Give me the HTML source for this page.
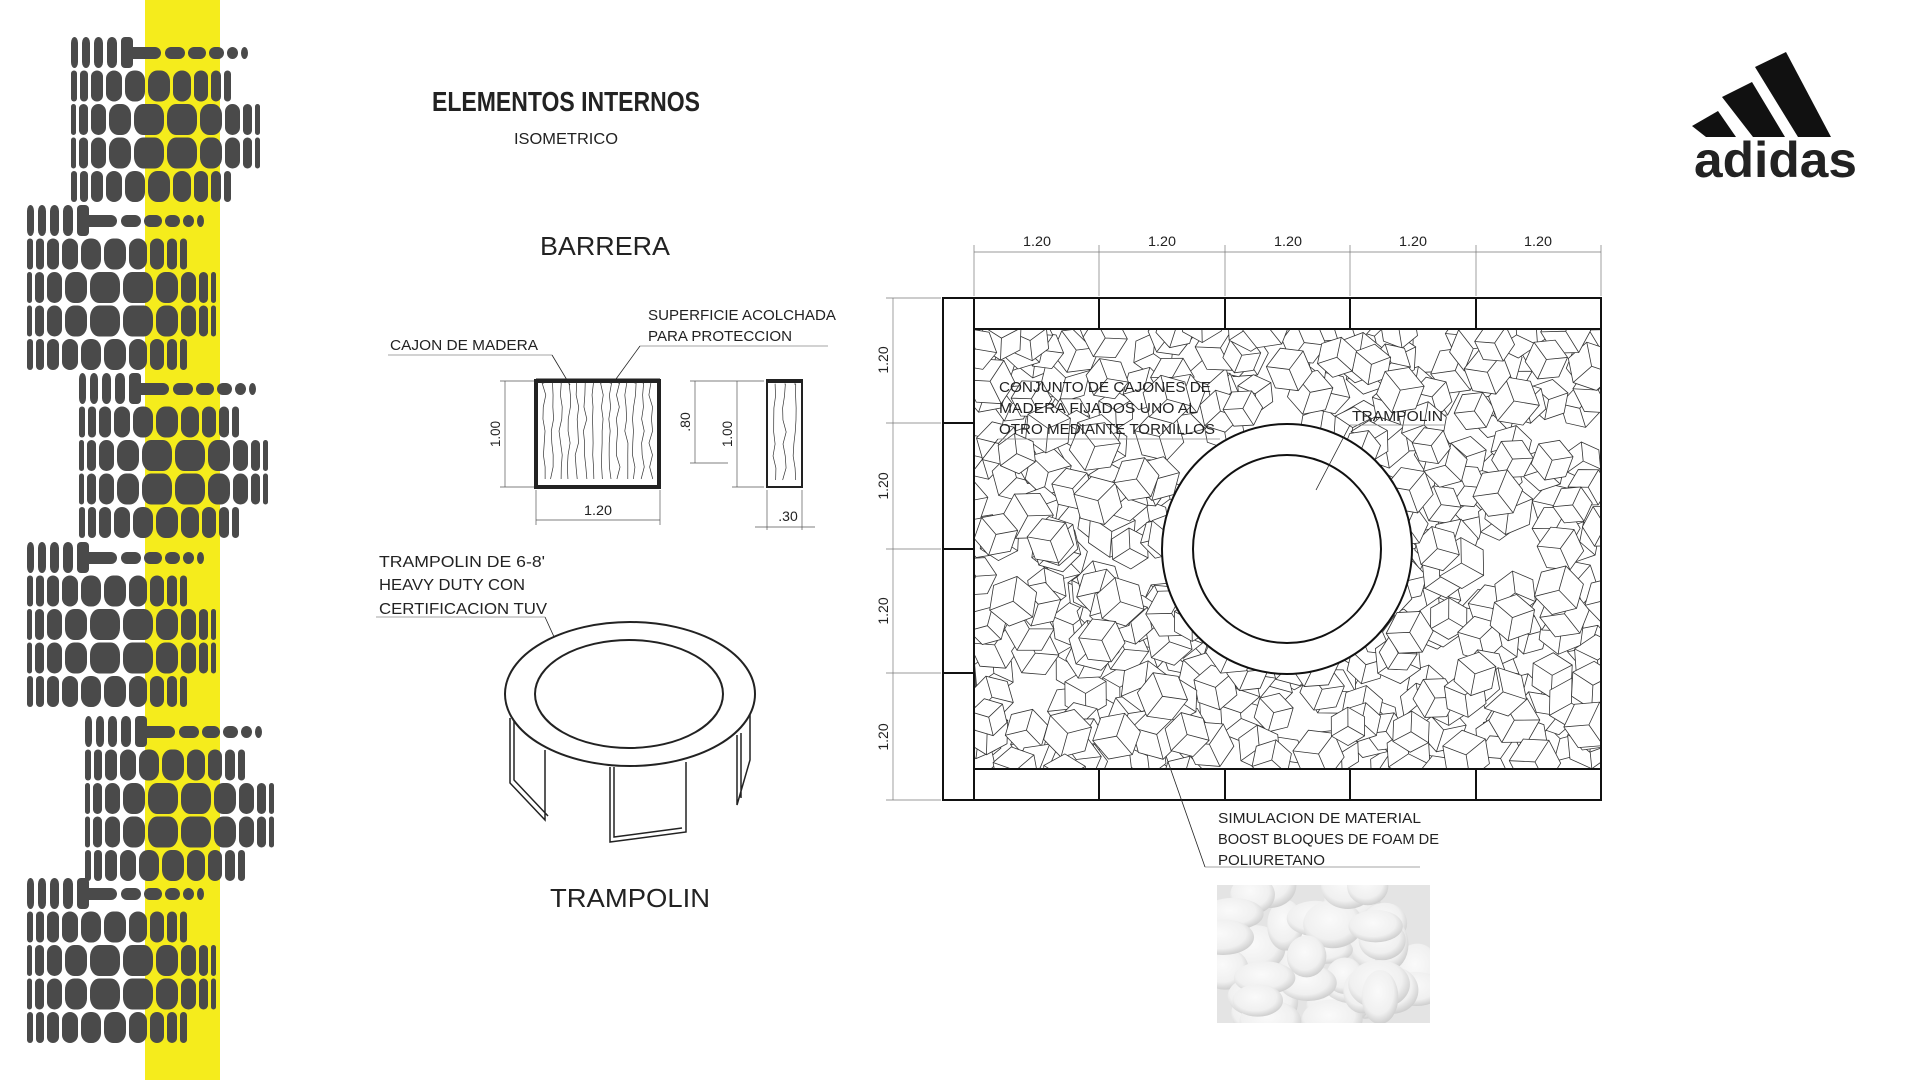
<!DOCTYPE html>
<html><head><meta charset="utf-8"><style>
html,body{margin:0;padding:0;background:#fff;width:1910px;height:1080px;overflow:hidden}
svg{display:block}
text{font-family:"Liberation Sans",sans-serif;fill:#222}
</style></head><body>
<svg id="s" width="1910" height="1080" viewBox="0 0 1910 1080" xmlns="http://www.w3.org/2000/svg">
<defs>
<radialGradient id="bub" cx="45%" cy="40%" r="60%"><stop offset="0" stop-color="#fafafa"/><stop offset="0.7" stop-color="#f0f0f0"/><stop offset="1" stop-color="#cfcfcf"/></radialGradient>
<clipPath id="fillclip"><rect x="974" y="329" width="627" height="440"/></clipPath>
<clipPath id="foamclip"><rect x="1217" y="885" width="213" height="138"/></clipPath>
</defs>
<rect x="145" y="0" width="75" height="1080" fill="#f5ec1c"/>
<g id="pills" fill="#4a4a4a"></g>

<text x="566" y="111" text-anchor="middle" font-size="28" font-weight="bold" textLength="268" lengthAdjust="spacingAndGlyphs">ELEMENTOS INTERNOS</text>
<text x="566" y="144" text-anchor="middle" font-size="16" textLength="104" lengthAdjust="spacingAndGlyphs">ISOMETRICO</text>
<text x="605" y="255" text-anchor="middle" font-size="26" textLength="130" lengthAdjust="spacingAndGlyphs">BARRERA</text>
<text x="630" y="907" text-anchor="middle" font-size="26" textLength="160" lengthAdjust="spacingAndGlyphs">TRAMPOLIN</text>

<g fill="#111">
<polygon points="1692,126 1718,111 1736,137 1706,137"/>
<polygon points="1722,97 1752,82 1785,137 1753,137"/>
<polygon points="1755,67 1786,52 1831,137 1798,137"/>
<text x="1694" y="177" font-size="50" font-weight="bold" fill="#111" textLength="163" lengthAdjust="spacingAndGlyphs">adidas</text>
</g>

<g stroke="#222" fill="none">
<text x="390" y="350" font-size="15" stroke="none" textLength="148" lengthAdjust="spacingAndGlyphs">CAJON DE MADERA</text>
<line x1="388" y1="355" x2="552" y2="355" stroke-width="0.8" stroke="#888"/>
<line x1="552" y1="355" x2="570" y2="385" stroke-width="0.8"/>
<text x="648" y="320" font-size="15" stroke="none" textLength="188" lengthAdjust="spacingAndGlyphs">SUPERFICIE ACOLCHADA</text>
<text x="648" y="341" font-size="15" stroke="none" textLength="144" lengthAdjust="spacingAndGlyphs">PARA PROTECCION</text>
<line x1="640" y1="346" x2="828" y2="346" stroke-width="0.8" stroke="#888"/>
<line x1="640" y1="346" x2="616" y2="379" stroke-width="0.8"/>
<rect x="536" y="381" width="123" height="106" stroke-width="4"/>
<line x1="536" y1="380" x2="660" y2="380" stroke-width="3"/>
<g id="wood1" stroke-width="0.7"></g>
<rect x="767" y="382" width="35" height="105" stroke-width="2"/>
<line x1="766" y1="381" x2="803" y2="381" stroke-width="4"/>
<g id="wood2" stroke-width="0.7"></g>
<g stroke-width="0.7" stroke="#555">
<line x1="505" y1="381" x2="505" y2="487"/><line x1="500" y1="381" x2="534" y2="381"/><line x1="500" y1="487" x2="534" y2="487"/>
<line x1="536" y1="520" x2="660" y2="520"/><line x1="536" y1="490" x2="536" y2="525"/><line x1="660" y1="490" x2="660" y2="525"/>
<line x1="695" y1="381" x2="695" y2="463"/><line x1="690" y1="381" x2="764" y2="381"/><line x1="690" y1="463" x2="728" y2="463"/>
<line x1="737" y1="381" x2="737" y2="487"/><line x1="732" y1="487" x2="764" y2="487"/>
<line x1="767" y1="490" x2="767" y2="530"/><line x1="802" y1="490" x2="802" y2="530"/><line x1="755" y1="527" x2="815" y2="527"/>
</g>
</g>
<g font-size="14">
<text transform="translate(500,434) rotate(-90)" text-anchor="middle" textLength="26" lengthAdjust="spacingAndGlyphs">1.00</text>
<text x="598" y="515" text-anchor="middle" textLength="28" lengthAdjust="spacingAndGlyphs">1.20</text>
<text transform="translate(690,422) rotate(-90)" text-anchor="middle">.80</text>
<text transform="translate(732,434) rotate(-90)" text-anchor="middle" textLength="26" lengthAdjust="spacingAndGlyphs">1.00</text>
<text x="788" y="521" text-anchor="middle">.30</text>
</g>

<text x="379" y="567" font-size="16" textLength="166" lengthAdjust="spacingAndGlyphs">TRAMPOLIN DE 6-8'</text>
<text x="379" y="590" font-size="16" textLength="146" lengthAdjust="spacingAndGlyphs">HEAVY DUTY CON</text>
<text x="379" y="614" font-size="16" textLength="168" lengthAdjust="spacingAndGlyphs">CERTIFICACION TUV</text>
<g stroke="#222" fill="none" stroke-width="1.5">
<line x1="376" y1="617" x2="545" y2="617" stroke-width="0.8" stroke="#888"/>
<line x1="545" y1="617" x2="570" y2="672" stroke-width="0.8"/>
<path d="M510,718 V783 L545,820 V750 M514,718 V780 L548,816"/>
<path d="M610,767 V842 L686,832 V762 M614,767 V837 L682,828"/>
<path d="M737,735 V805 L750,760 V715 M741,733 V798"/>
<ellipse cx="630" cy="694" rx="125" ry="72" fill="#fff" stroke-width="2"/>
<ellipse cx="629" cy="694" rx="94" ry="54" stroke-width="2"/>
</g>

<g id="cubes" clip-path="url(#fillclip)" stroke="#333" stroke-width="0.8" fill="#fff"></g>
<g stroke="#111" fill="none" stroke-width="2">
<rect x="943" y="298" width="658" height="502"/>
<rect x="974" y="298" width="627" height="502"/>
<line x1="974" y1="329" x2="1601" y2="329"/>
<line x1="974" y1="769" x2="1601" y2="769"/>
<path d="M1099,298 V329 M1225,298 V329 M1350,298 V329 M1476,298 V329 M1099,769 V800 M1225,769 V800 M1350,769 V800 M1476,769 V800"/>
<path d="M943,423 H974 M943,549 H974 M943,673 H974"/>
<circle cx="1287" cy="549" r="125" fill="#fff"/>
<circle cx="1287" cy="549" r="94"/>
</g>
<g stroke="#777" stroke-width="0.7" fill="none">
<line x1="974" y1="252" x2="1601" y2="252"/>
<path d="M974,245 V296 M1099,245 V296 M1225,245 V296 M1350,245 V296 M1476,245 V296 M1601,245 V296"/>
<line x1="893" y1="298" x2="893" y2="800"/>
<path d="M886,298 H941 M886,423 H941 M886,549 H941 M886,673 H941 M886,800 H941"/>
</g>
<g font-size="14">
<text x="1037" y="246" text-anchor="middle" textLength="28" lengthAdjust="spacingAndGlyphs">1.20</text>
<text x="1162" y="246" text-anchor="middle" textLength="28" lengthAdjust="spacingAndGlyphs">1.20</text>
<text x="1288" y="246" text-anchor="middle" textLength="28" lengthAdjust="spacingAndGlyphs">1.20</text>
<text x="1413" y="246" text-anchor="middle" textLength="28" lengthAdjust="spacingAndGlyphs">1.20</text>
<text x="1538" y="246" text-anchor="middle" textLength="28" lengthAdjust="spacingAndGlyphs">1.20</text>
<text transform="translate(888,360) rotate(-90)" text-anchor="middle">1.20</text>
<text transform="translate(888,486) rotate(-90)" text-anchor="middle">1.20</text>
<text transform="translate(888,611) rotate(-90)" text-anchor="middle">1.20</text>
<text transform="translate(888,737) rotate(-90)" text-anchor="middle">1.20</text>
</g>
<g font-size="15">
<text x="999" y="392" textLength="212" lengthAdjust="spacingAndGlyphs">CONJUNTO DE CAJONES DE</text>
<text x="999" y="413" textLength="198" lengthAdjust="spacingAndGlyphs">MADERA FIJADOS UNO AL</text>
<text x="999" y="434" textLength="216" lengthAdjust="spacingAndGlyphs">OTRO MEDIANTE TORNILLOS</text>
<text x="1352" y="421" textLength="91" lengthAdjust="spacingAndGlyphs">TRAMPOLIN</text>
</g>
<g stroke="#222" stroke-width="0.8" fill="none">
<line x1="1350" y1="425" x2="1445" y2="425" stroke="#888"/>
<line x1="1350" y1="425" x2="1316" y2="490"/>
<line x1="998" y1="439" x2="1220" y2="439" stroke="#888"/>
<line x1="998" y1="439" x2="974" y2="470"/>
<line x1="1205" y1="867" x2="1420" y2="867" stroke="#888"/>
<line x1="1205" y1="867" x2="1166" y2="756"/>
</g>
<g font-size="15">
<text x="1218" y="823" textLength="203" lengthAdjust="spacingAndGlyphs">SIMULACION DE MATERIAL</text>
<text x="1218" y="844" textLength="221" lengthAdjust="spacingAndGlyphs">BOOST BLOQUES DE FOAM DE</text>
<text x="1218" y="865" textLength="107" lengthAdjust="spacingAndGlyphs">POLIURETANO</text>
</g>
<rect x="1217" y="885" width="213" height="138" fill="#e4e4e4"/>
<g id="foam" clip-path="url(#foamclip)"></g>
</svg>
<script>
(function(){
var NS="http://www.w3.org/2000/svg";
function el(p,t,a){var e=document.createElementNS(NS,t);for(var k in a)e.setAttribute(k,a[k]);p.appendChild(e);return e;}
var seed=7;function r(){seed=(seed*16807)%2147483647;return seed/2147483647;}
var P=document.getElementById('pills');
var groups=[[71,37],[27,205],[79,373],[27,542],[85,716],[27,878]];
var W=[null,[6,8,12,16,20,22,18,14,10,7],[5,9,15,22,30,30,22,15,9,5],[5,9,15,22,30,30,22,15,9,5],[6,8,12,16,20,22,18,14,10,7]];
groups.forEach(function(g){
 var x=g[0],y=g[1],h=31;
 [7,8,9,10].forEach(function(w){el(P,'rect',{x:x,y:y,width:w,height:h,rx:w/2,ry:6});x+=w+4;});
 el(P,'rect',{x:x,y:y,width:12,height:h,rx:4});
 el(P,'rect',{x:x,y:y+10,width:40,height:12,rx:6});x+=44;
 [20,18,15,11,7].forEach(function(w){el(P,'rect',{x:x,y:y+10,width:w,height:12,rx:6});x+=w+3;});
 for(var row=1;row<5;row++){
  x=g[0];y=g[1]+row*33.5;
  var ws=W[row];
  for(var i=0;i<ws.length;i++){
   var w=ws[i];
   el(P,'rect',{x:x,y:y,width:w,height:h,rx:Math.min(w/2,9),ry:Math.min(w/2,12)});
   x+=w+3;
  }
 }
});
function wood(id,x0,x1,y0,y1,n){var G=document.getElementById(id);
 for(var i=0;i<n;i++){var x=x0+(x1-x0)*(i+0.5)/n;var d='M'+x+','+y0;
  for(var y=y0;y<=y1;y+=12){d+=' L'+(x+(r()-0.5)*4)+','+y;}
  el(G,'path',{d:d,stroke:'#333',fill:'none'});}}
wood('wood1',540,655,383,485,14);wood('wood2',770,799,384,485,3);
var C=document.getElementById('cubes');
for(var k=0;k<400;k++){
 var cx=965+r()*650,cy=320+r()*460,s=19+r()*7,a=r()*Math.PI*2;
 var pts=[];for(var j=0;j<6;j++){var t=a+j*Math.PI/3;pts.push([cx+s*Math.cos(t),cy+s*Math.sin(t)]);}
 el(C,'polygon',{points:pts.map(function(p){return p.join(',')}).join(' ')});
 el(C,'path',{d:'M'+cx+','+cy+' L'+pts[0]+' M'+cx+','+cy+' L'+pts[2]+' M'+cx+','+cy+' L'+pts[4],fill:'none'});
}
var F=document.getElementById('foam');
for(var k=0;k<40;k++){
 el(F,'ellipse',{cx:1217+r()*213,cy:885+r()*138,rx:18+r()*14,ry:14+r()*14,fill:'url(#bub)'});
}
})();
</script>
</body></html>
